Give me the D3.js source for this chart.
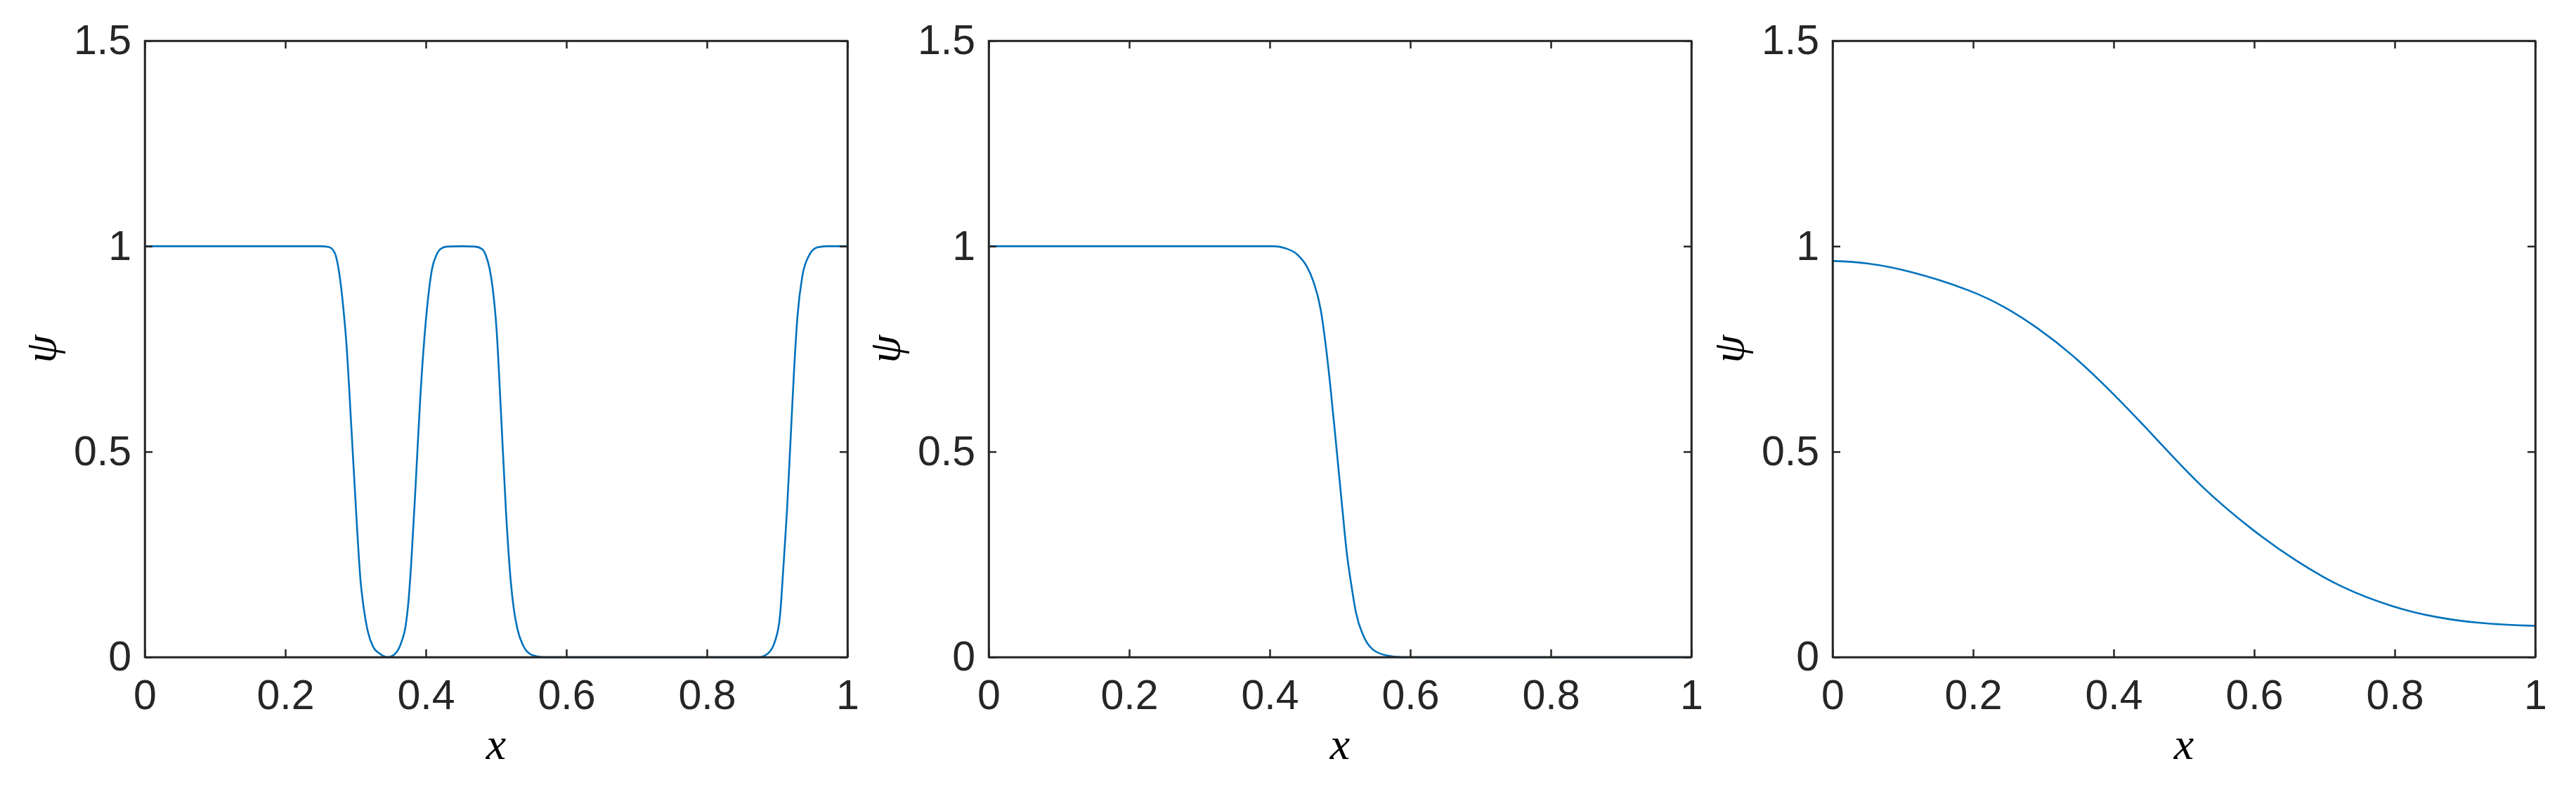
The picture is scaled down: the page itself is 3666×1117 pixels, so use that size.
<!DOCTYPE html>
<html>
<head>
<meta charset="utf-8">
<script src="https://cdn.jsdelivr.net/npm/d3@7"></script>
<style>
  html, body { margin: 0; padding: 0; background: #ffffff; }
  svg { display: block; }
</style>
</head>
<body>
<svg id="chart" width="3666" height="1117"></svg>
<script>
// ---------------- data ----------------
const xTicks = [0, 0.2, 0.4, 0.6, 0.8, 1];
const xTickLabels = ["0", "0.2", "0.4", "0.6", "0.8", "1"];
const yTicks = [0, 0.5, 1, 1.5];
const yTickLabels = ["0", "0.5", "1", "1.5"];
const xLabel = "x";
const yLabel = "ψ";

const panel1X = [0, 0.25, 0.262, 0.27, 0.277, 0.282, 0.287, 0.294, 0.3007, 0.307, 0.312, 0.317, 0.325, 0.334, 0.3457,
  0.355, 0.361, 0.366, 0.371, 0.375, 0.379, 0.3857, 0.392, 0.4007, 0.405, 0.409, 0.415, 0.4207, 0.43, 0.45,
  0.47, 0.48, 0.486, 0.4907, 0.495, 0.5007, 0.507, 0.514, 0.5207, 0.525, 0.5307, 0.538, 0.547, 0.557, 0.567,
  0.874, 0.887, 0.897, 0.904, 0.909, 0.914, 0.919, 0.924, 0.929, 0.9357, 0.944, 0.957, 0.97, 1];
const panel1Y = [1, 1, 0.998, 0.985, 0.932, 0.86, 0.763, 0.56, 0.357, 0.188, 0.115, 0.066, 0.025, 0.009, 0.0,
  0.006, 0.019, 0.04, 0.073, 0.13, 0.222, 0.425, 0.628, 0.831, 0.9, 0.946, 0.978, 0.993, 0.999, 1.0,
  0.999, 0.993, 0.975, 0.946, 0.9, 0.797, 0.594, 0.357, 0.188, 0.12, 0.066, 0.03, 0.009, 0.002, 0,
  0, 0.009, 0.039, 0.1, 0.222, 0.357, 0.526, 0.696, 0.831, 0.926, 0.973, 0.997, 1, 1];

const panel2X = [0, 0.38, 0.406, 0.4224, 0.439, 0.4526, 0.4626, 0.4727, 0.4794, 0.4861, 0.4928, 0.4978, 0.5028,
  0.5095, 0.5162, 0.5229, 0.533, 0.5464, 0.5665, 0.59, 1];
const panel2Y = [1, 1, 1.0, 0.995, 0.98, 0.951, 0.912, 0.844, 0.763, 0.662, 0.547, 0.459, 0.371,
  0.256, 0.175, 0.107, 0.053, 0.019, 0.004, 0, 0];

const panel3X = [0, 0.047, 0.114, 0.199, 0.247, 0.2907, 0.3407, 0.4, 0.4573, 0.524, 0.6, 0.657, 0.724, 0.8, 0.856, 0.9225, 1.0];
const panel3Y = [0.964, 0.961, 0.939, 0.892, 0.851, 0.803, 0.738, 0.641, 0.538, 0.413, 0.305, 0.236, 0.168, 0.12, 0.097, 0.081, 0.076];

const panels = [
  { xs: panel1X, ys: panel1Y, curve: d3.curveMonotoneX },
  { xs: panel2X, ys: panel2Y, curve: d3.curveMonotoneX },
  { xs: panel3X, ys: panel3Y, curve: d3.curveBasis }
];

// ---------------- layout ----------------
const panelLefts = [206, 1407, 2608];
const panelWidth = 1000;
const plotTop = 58, plotBottom = 935;
const axisColor = "#262626";
const lineColor = "#0072BD";
const tickFont = "'Liberation Sans', Arial, Helvetica, sans-serif";
const labelFont = "'Liberation Serif', 'Times New Roman', serif";

const svg = d3.select("#chart");

panels.forEach((p, i) => {
  const left = panelLefts[i];
  const x = d3.scaleLinear().domain([0, 1]).range([left, left + panelWidth]);
  const y = d3.scaleLinear().domain([0, 1.5]).range([plotBottom, plotTop]);
  const g = svg.append("g");

  // data line
  const pts = p.xs.map((xv, k) => [xv, p.ys[k]]);
  g.append("path")
    .datum(pts)
    .attr("fill", "none")
    .attr("stroke", lineColor)
    .attr("stroke-width", 2.6)
    .attr("stroke-linejoin", "round")
    .attr("d", d3.line().x(d => x(d[0])).y(d => y(d[1])).curve(p.curve));

  const fmtX = (d) => xTickLabels[xTicks.indexOf(d)];
  const fmtY = (d) => yTickLabels[yTicks.indexOf(d)];

  const styleAxis = (sel) => {
    sel.selectAll("path.domain").attr("stroke", axisColor).attr("stroke-width", 2.5).attr("fill", "none");
    sel.selectAll(".tick line").attr("stroke", axisColor).attr("stroke-width", 2.5);
    sel.selectAll(".tick text").attr("fill", axisColor)
      .style("font-family", tickFont).style("font-size", "59px");
  };

  g.append("g").attr("transform", `translate(0,${plotBottom})`)
    .call(d3.axisBottom(x).tickValues(xTicks).tickFormat(fmtX).tickSizeInner(-11).tickSizeOuter(0).tickPadding(32))
    .call(styleAxis);
  g.append("g").attr("transform", `translate(0,${plotTop})`)
    .call(d3.axisTop(x).tickValues(xTicks).tickFormat("").tickSizeInner(-11).tickSizeOuter(0))
    .call(styleAxis);
  g.append("g").attr("transform", `translate(${left},0)`)
    .call(d3.axisLeft(y).tickValues(yTicks).tickFormat(fmtY).tickSizeInner(-11).tickSizeOuter(0).tickPadding(19))
    .call(styleAxis);
  g.append("g").attr("transform", `translate(${left + panelWidth},0)`)
    .call(d3.axisRight(y).tickValues(yTicks).tickFormat("").tickSizeInner(-11).tickSizeOuter(0))
    .call(styleAxis);

  g.append("rect")
    .attr("x", left).attr("y", plotTop)
    .attr("width", panelWidth).attr("height", plotBottom - plotTop)
    .attr("fill", "none").attr("stroke", axisColor).attr("stroke-width", 2.5);

  // axis labels
  g.append("text")
    .attr("x", left + panelWidth / 2).attr("y", 1080)
    .attr("text-anchor", "middle")
    .style("font-family", labelFont).style("font-style", "italic").style("font-size", "64px")
    .attr("fill", "#000")
    .text(xLabel);
  g.append("text")
    .attr("transform", `translate(${left - 146},${(plotTop + plotBottom) / 2}) rotate(-90)`)
    .attr("text-anchor", "middle")
    .attr("dy", "0.3em")
    .style("font-family", labelFont).style("font-style", "italic").style("font-size", "64px")
    .attr("fill", "#000")
    .text(yLabel);
});
</script>
</body>
</html>
